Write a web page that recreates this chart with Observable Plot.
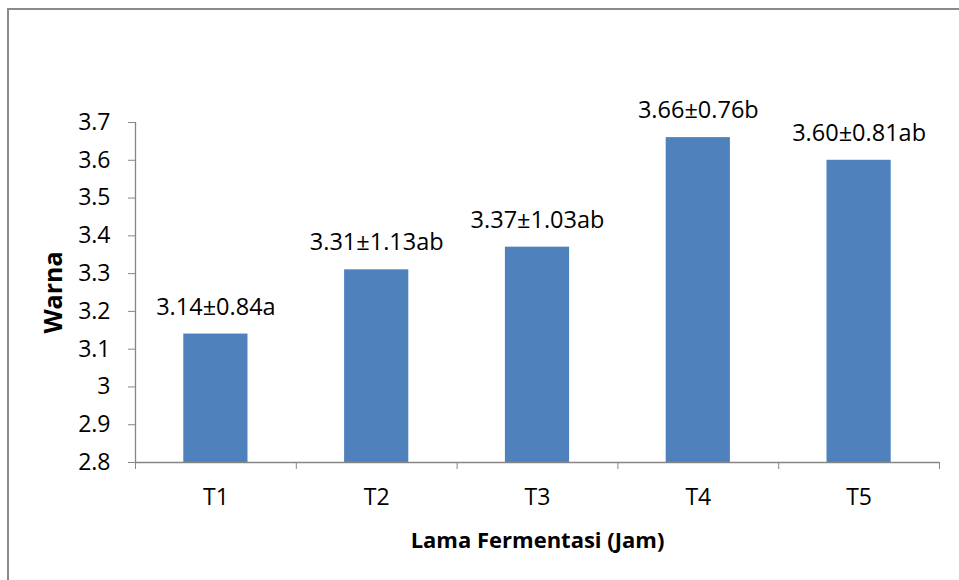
<!DOCTYPE html>
<html>
<head>
<meta charset="utf-8">
<script src="https://cdn.jsdelivr.net/npm/d3@7"></script>
<script src="https://cdn.jsdelivr.net/npm/@observablehq/plot@0.6"></script>
<style>
  html, body { margin: 0; padding: 0; background: #fff; }
  #wrap { position: relative; width: 959px; height: 580px; overflow: hidden; }
  #frame { position: absolute; left: 7px; top: 8px; width: 1000px; height: 1000px;
           border-top: 2px solid #8a8a8a; border-left: 2px solid #8a8a8a; }
  #chart { position: absolute; left: 0; top: 0; }
</style>
</head>
<body>
<div id="wrap"><div id="frame"></div><div id="chart"></div></div>
<script>
const categories = ["T1", "T2", "T3", "T4", "T5"];
const values = [3.14, 3.31, 3.37, 3.66, 3.60];
const labels = ["3.14±0.84a", "3.31±1.13ab", "3.37±1.03ab", "3.66±0.76b", "3.60±0.81ab"];
const yTicks = [2.8, 2.9, 3.0, 3.1, 3.2, 3.3, 3.4, 3.5, 3.6, 3.7];
const yDomain = [2.8, 3.7];
const xTitle = "Lama Fermentasi (Jam)";
const yTitle = "Warna";

const data = categories.map((c, i) => ({cat: c, i, value: values[i], label: labels[i]}));
const boundaries = d3.range(categories.length + 1);
const centers = categories.map((c, i) => i + 0.5);
const axisColor = "#868686";

const chart = Plot.plot({
  width: 959,
  height: 580,
  marginLeft: 135,
  marginRight: 20,
  marginTop: 122,
  marginBottom: 118,
  style: {fontFamily: "'Open Sans', sans-serif", fontSize: "23px", background: "transparent", color: "black", overflow: "visible"},
  x: {domain: [0, categories.length]},
  y: {domain: yDomain},
  marks: [
    Plot.rectY(data, {
      x1: d => d.i, x2: d => d.i + 1, y1: yDomain[0], y2: "value",
      insetLeft: 48.3, insetRight: 48.3, fill: "#4F81BD"
    }),
    Plot.ruleX([0], {stroke: axisColor, strokeWidth: 1.3}),
    Plot.ruleY([yDomain[0]], {stroke: axisColor, strokeWidth: 1.3}),
    Plot.axisY({ticks: yTicks, tickSize: 7, tickPadding: 18, stroke: axisColor, fill: "black",
      tickFormat: d => String(+d.toFixed(1)), fontSize: 23, label: null}),
    Plot.axisX({ticks: boundaries, tickSize: 7, tickFormat: () => "", stroke: axisColor, label: null}),
    Plot.axisX({ticks: centers, tickSize: 0, tickPadding: 26, fill: "black",
      tickFormat: d => categories[Math.round(d - 0.5)], fontSize: 23, label: null}),
    Plot.text(data, {x: d => d.i + 0.5, y: "value", text: "label", dy: -27, fontSize: 23.5, fill: "black"}),
    Plot.text([xTitle], {frameAnchor: "bottom", dy: 78, fontSize: 22, fontWeight: "bold", fill: "black",
      textAnchor: "middle", lineAnchor: "middle"}),
    Plot.text([yTitle], {frameAnchor: "left", dx: -82, rotate: -90, fontSize: 25, fontWeight: "bold", fill: "black",
      textAnchor: "middle", lineAnchor: "middle"})
  ]
});
document.getElementById("chart").appendChild(chart);
</script>
</body>
</html>
